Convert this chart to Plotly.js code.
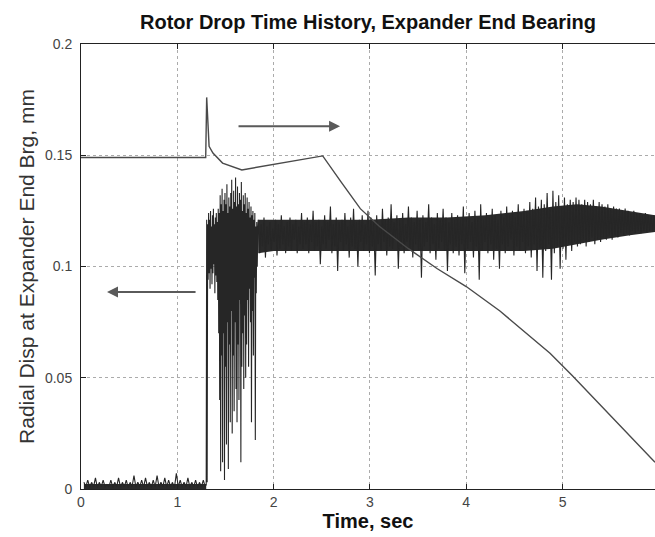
<!DOCTYPE html>
<html><head><meta charset="utf-8">
<script src="https://cdn.plot.ly/plotly-3.0.1.min.js"></script>
<style>html,body{margin:0;padding:0;background:#fff}#chart{width:655px;height:537px}</style>
</head><body><div id="chart"></div>
<script>
const chartTitle = "Rotor Drop Time History, Expander End Bearing";
const xTitle = "Time, sec";
const yTitle = "Radial Disp at Expander End Brg, mm";
const xTickVals = [0, 1, 2, 3, 4, 5];
const xTickText = ["0", "1", "2", "3", "4", "5"];
const yTickVals = [0, 0.05, 0.1, 0.15, 0.2];
const yTickText = ["0", "0.05", "0.1", "0.15", "0.2"];

// Displacement, before the drop (sampled every baseStep s)
const baseStart = 0.03, baseStep = 0.02;
const baseVals = [0.003,0.001,0.004,0.0008,0.003,0.001,0.005,0.0006,0.003,0.001,
  0.004,0.0009,0.002,0.001,0.004,0.0007,0.003,0.001,0.005,0.0008,
  0.003,0.001,0.004,0.0006,0.003,0.001,0.006,0.0009,0.003,0.001,
  0.004,0.0008,0.005,0.001,0.003,0.0007,0.004,0.001,0.006,0.0009,
  0.003,0.001,0.005,0.0008,0.004,0.001,0.003,0.0006,0.007,0.001,
  0.004,0.0009,0.003,0.001,0.005,0.0008,0.003,0.001,0.004,0.0007,
  0.003,0.001,0.004,0.001];

// Displacement, drop transient
const burstStart = 1.30, burstStep = 0.005;
const burstVals = [0.002,0.121,0.003,0.119,0.094,0.124,0.097,0.121,0.090,0.125,
  0.099,0.118,0.092,0.123,0.097,0.126,0.101,0.119,0.088,0.122,
  0.096,0.124,0.093,0.120,0.085,0.126,0.070,0.124,0.040,0.132,
  0.008,0.128,0.060,0.135,0.012,0.125,0.070,0.130,0.004,0.133,
  0.055,0.128,0.020,0.137,0.075,0.124,0.009,0.131,0.065,0.127,
  0.030,0.133,0.080,0.139,0.025,0.126,0.060,0.134,0.035,0.129,
  0.075,0.140,0.045,0.127,0.030,0.136,0.065,0.128,0.040,0.133,
  0.085,0.130,0.012,0.138,0.055,0.125,0.070,0.132,0.045,0.128,
  0.078,0.133,0.050,0.124,0.065,0.131,0.085,0.126,0.055,0.129,
  0.090,0.122,0.075,0.127,0.030,0.123,0.080,0.125,0.060,0.121,
  0.095,0.124,0.022,0.118,0.088,0.120,0.100,0.116];

// Displacement, on the backup bearing
const bandStart = 1.84, bandStep = 0.015;
const bandVals = [
  0.121,0.106,0.119,0.109,0.122,0.104,0.118,0.110,0.120,0.107,
  0.117,0.111,0.121,0.105,0.119,0.108,0.123,0.110,0.118,0.106,
  0.120,0.109,0.122,0.107,0.119,0.112,0.121,0.106,0.118,0.110,
  0.124,
  0.108,0.120,0.110,0.122,0.106,0.119,0.111,0.125,0.107,0.120,
  0.109,0.121,0.101,0.118,0.110,0.123,0.108,0.120,0.112,0.127,
  0.106,0.119,0.109,0.122,0.098,0.120,0.111,0.121,0.107,0.124,
  0.110,0.118,0.104,0.122,0.109,0.126,0.108,0.120,0.100,0.121,
  0.111,0.123,0.107,0.119,0.110,0.125,0.106,
  0.122,0.109,0.120,0.096,0.123,0.110,0.119,0.107,0.126,0.111,
  0.121,0.105,0.122,0.109,0.128,0.108,0.120,0.112,0.123,0.099,
  0.121,0.109,0.124,0.106,0.119,0.111,0.127,0.108,0.122,0.104,
  0.120,0.110,0.125,0.107,0.121,0.095,0.123,0.109,0.120,0.111,
  0.128,0.106,0.122,0.110,0.119,0.103,0.124,0.108,0.121,0.111,
  0.126,0.107,0.122,0.098,0.120,0.110,0.124,0.106,0.121,0.109,
  0.123,0.105,0.121,0.110,0.127,0.097,0.122,0.108,0.124,0.111,
  0.120,0.104,0.125,0.109,0.122,0.094,0.128,0.107,0.121,0.111,
  0.124,0.106,0.122,0.110,0.126,0.103,0.123,0.108,0.121,0.099,
  0.125,0.110,0.122,0.106,0.127,0.109,0.123,0.112,0.125,0.105,
  0.122,0.109,0.128,0.107,0.124,0.111,0.126,
  0.106,0.125,0.109,0.129,0.104,0.126,0.110,0.131,0.098,0.127,
  0.108,0.130,0.095,0.128,0.107,0.133,0.110,0.126,0.094,0.134,
  0.106,0.129,0.109,0.132,0.099,0.127,0.108,0.131,0.103,0.128,
  0.110,0.130,0.107,0.129,0.111,0.131,0.109,
  0.130,0.110,0.128,0.112,0.130,0.109,0.129,0.111,0.128,0.113,
  0.130,0.110,0.127,0.112,0.129,0.111,0.128,0.113,0.127,0.112,
  0.128,0.114,0.126,0.112,0.127,0.114,0.126,0.113,0.126,0.115,
  0.125,0.114,0.126,0.115,0.125,0.114,0.124,0.116,0.125,0.115,
  0.124,0.116,0.124,0.115,0.123,0.116,0.124,0.1155,0.123,0.116,
  0.123,0.1155,0.123,0.116];

// Dense core of the displacement trace (where the trace is solid black)
const coreT  = [1.84, 2.0, 2.3, 2.6, 3.0, 3.4, 3.8, 4.2, 4.6, 4.9, 5.15, 5.4, 5.7, 5.96];
const coreHi = [0.121, 0.121, 0.121, 0.121, 0.121, 0.122, 0.122, 0.123, 0.125, 0.127, 0.128, 0.127, 0.125, 0.123];
const coreLo = [0.106, 0.107, 0.107, 0.107, 0.107, 0.107, 0.107, 0.107, 0.107, 0.108, 0.110, 0.112, 0.114, 0.1155];
const baseCoreT  = [0.03, 1.30];
const baseCoreHi = [0.0022, 0.0022];
const baseCoreLo = [0.0, 0.0];

// Rotor speed (right-hand scale, drawn in left-axis units)
const speedT = [0, 1.295, 1.305, 1.32, 1.33, 1.37, 1.47, 1.67, 2.2, 2.51, 2.7, 2.9, 3.1, 3.4, 3.7, 4.0, 4.35, 4.87, 5.1, 5.5, 5.96];
const speedV = [0.149, 0.149, 0.176, 0.160, 0.154, 0.151, 0.1465, 0.1434, 0.1475, 0.1497, 0.138, 0.126, 0.118, 0.108, 0.099, 0.091, 0.080, 0.061, 0.051, 0.033, 0.012];

function timesFor(start, step, vals) { return vals.map((v, i) => +(start + i * step).toFixed(4)); }
const dispT = [].concat(timesFor(baseStart, baseStep, baseVals), timesFor(burstStart, burstStep, burstVals), timesFor(bandStart, bandStep, bandVals));
const dispV = [].concat(baseVals, burstVals, bandVals);

const font = "Liberation Sans, Arial, sans-serif";
const coreColor = "#2a2a2a";
const traces = [
  {x: coreT, y: coreLo, type: "scatter", mode: "lines", line: {width: 0, color: coreColor}, hoverinfo: "skip"},
  {x: coreT, y: coreHi, type: "scatter", mode: "lines", line: {width: 0, color: coreColor}, fill: "tonexty", fillcolor: coreColor, hoverinfo: "skip"},
  {x: baseCoreT, y: baseCoreLo, type: "scatter", mode: "lines", line: {width: 0, color: coreColor}, hoverinfo: "skip"},
  {x: baseCoreT, y: baseCoreHi, type: "scatter", mode: "lines", line: {width: 0, color: coreColor}, fill: "tonexty", fillcolor: coreColor, hoverinfo: "skip"},
  {x: dispT, y: dispV, type: "scatter", mode: "lines", line: {color: "#262626", width: 1.1}, hoverinfo: "skip"},
  {x: speedT, y: speedV, type: "scatter", mode: "lines", line: {color: "#4a4a4a", width: 1.4}, hoverinfo: "skip"}
];

const arrowStyle = {xref: "x", yref: "y", axref: "x", ayref: "y", text: "", showarrow: true, arrowhead: 2, arrowsize: 1.1, arrowwidth: 2, arrowcolor: "#5a5a5a"};
const layout = {
  width: 655, height: 537,
  margin: {l: 81, r: 0, t: 44, b: 48},
  paper_bgcolor: "#fff", plot_bgcolor: "#fff",
  showlegend: false,
  font: {family: font, color: "#222"},
  title: {text: "<b>" + chartTitle + "</b>", font: {size: 20, color: "#111", family: font}, x: 0.5, xref: "paper", y: 0.959, yanchor: "middle"},
  xaxis: {
    range: [0, 5.96], tickvals: xTickVals, ticktext: xTickText,
    ticks: "inside", ticklen: 5, tickcolor: "#222", showline: true, linecolor: "#222", linewidth: 1, mirror: "ticks",
    showgrid: true, gridcolor: "#ababab", griddash: "dot", gridwidth: 1, zeroline: false,
    tickfont: {size: 14, color: "#444"},
    title: {text: "<b>" + xTitle + "</b>", font: {size: 20, color: "#111"}, standoff: 3}
  },
  yaxis: {
    range: [0, 0.2], tickvals: yTickVals, ticktext: yTickText,
    ticks: "inside", ticklen: 5, tickcolor: "#222", showline: true, linecolor: "#222", linewidth: 1,
    showgrid: true, gridcolor: "#ababab", griddash: "dot", gridwidth: 1, zeroline: false,
    tickfont: {size: 14, color: "#444"}, ticklabelstandoff: 5,
    title: {text: yTitle, font: {size: 21, color: "#333"}, standoff: 4}
  },
  annotations: [
    Object.assign({x: 0.27, y: 0.0885, ax: 1.205, ay: 0.0885}, arrowStyle),
    Object.assign({x: 2.69, y: 0.163, ax: 1.62, ay: 0.163}, arrowStyle)
  ]
};
Plotly.newPlot("chart", traces, layout, {displayModeBar: false, staticPlot: true});
</script>
</body></html>
